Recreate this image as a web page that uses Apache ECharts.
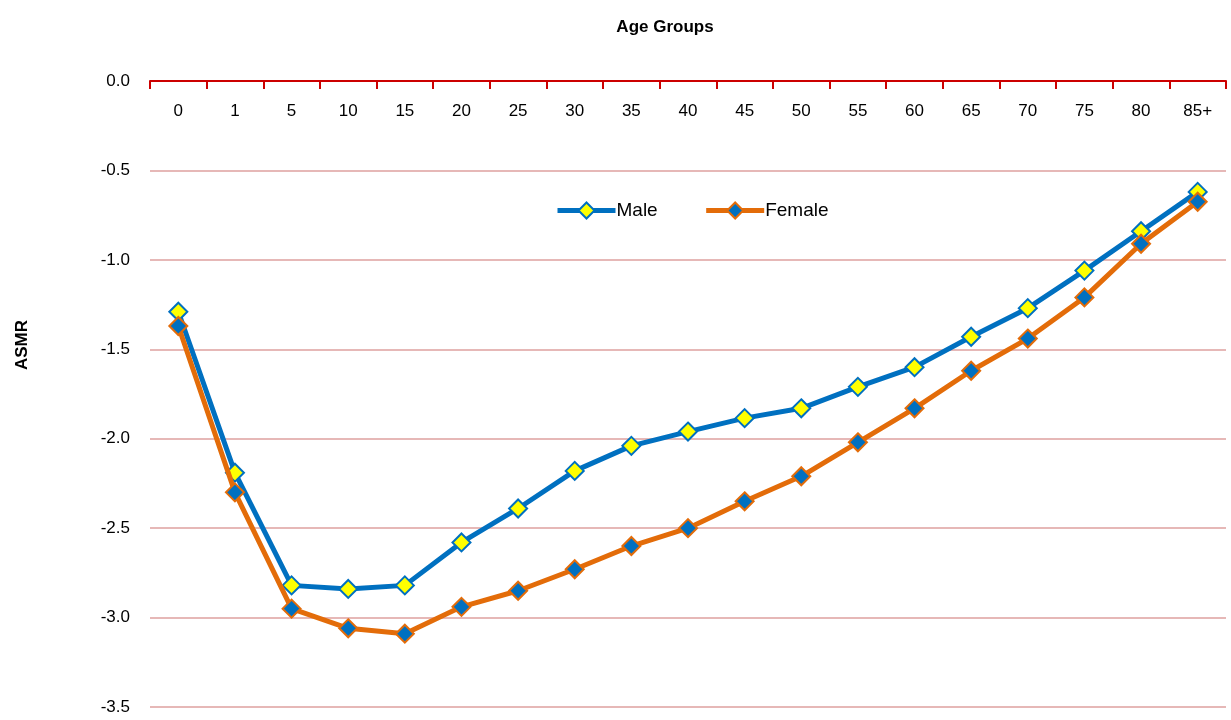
<!DOCTYPE html>
<html><head><meta charset="utf-8">
<script src="https://cdn.jsdelivr.net/npm/echarts@6/dist/echarts.min.js"></script>
<style>html,body{margin:0;padding:0;background:#fff}#c{width:1231px;height:720px}</style>
</head><body><div id="c"></div>
<script>
const categories = ['0','1','5','10','15','20','25','30','35','40','45','50','55','60','65','70','75','80','85+'];
const male = [-1.29,-2.19,-2.82,-2.84,-2.82,-2.58,-2.39,-2.18,-2.04,-1.96,-1.885,-1.83,-1.71,-1.60,-1.43,-1.27,-1.06,-0.84,-0.62];
const female = [-1.37,-2.30,-2.95,-3.06,-3.09,-2.94,-2.85,-2.73,-2.60,-2.50,-2.35,-2.21,-2.02,-1.83,-1.62,-1.44,-1.21,-0.91,-0.675];
const yTicks = {min:-3.5, max:0, interval:0.5};

const font = 'Liberation Sans, Arial, sans-serif';
const chart = echarts.init(document.getElementById('c'), null, {renderer:'canvas'});
chart.setOption({
  animation:false,
  title:{text:'Age Groups', left:660, top:14, textAlign:'center',
    textStyle:{fontFamily:font, fontSize:17, fontWeight:'bold', color:'#000'}},
  legend:{left:550, top:196, itemGap:46, itemWidth:58, itemHeight:20,
    lineStyle:{width:5},
    textStyle:{fontFamily:font, fontSize:19, color:'#000', padding:[0,0,0,-4]},
    data:['Male','Female']},
  graphic:[{type:'text', x:22, y:345, rotation:Math.PI/2,
    style:{text:'ASMR', fontFamily:font, fontSize:17, fontWeight:'bold', fill:'#000',
      align:'center', verticalAlign:'middle'}}],
  grid:{left:150, right:5, top:81, bottom:13},
  xAxis:{type:'category', data:categories, position:'top', boundaryGap:true,
    axisLine:{lineStyle:{color:'#CC0000', width:2}},
    axisTick:{show:true, inside:true, length:8, alignWithLabel:false, interval:0,
      lineStyle:{color:'#CC0000', width:2}},
    axisLabel:{inside:true, margin:22, fontFamily:font, fontSize:17, color:'#000', interval:0},
    splitLine:{show:false}},
  yAxis:{type:'value', min:yTicks.min, max:yTicks.max, interval:yTicks.interval,
    axisLine:{show:false}, axisTick:{show:false},
    axisLabel:{formatter:v=>v.toFixed(1), fontFamily:font, fontSize:17, color:'#000', margin:20},
    splitLine:{lineStyle:{color:'#E6B8B7', width:2}}},
  series:[
    {name:'Male', type:'line', data:male, symbol:'diamond', symbolSize:18,
     lineStyle:{color:'#0070C0', width:5},
     itemStyle:{color:'#FFFF00', borderColor:'#0070C0', borderWidth:2},
     z:3},
    {name:'Female', type:'line', data:female, symbol:'diamond', symbolSize:18,
     lineStyle:{color:'#E36C09', width:5},
     itemStyle:{color:'#0070C0', borderColor:'#E36C09', borderWidth:2},
     z:4}
  ]
});
</script></body></html>
